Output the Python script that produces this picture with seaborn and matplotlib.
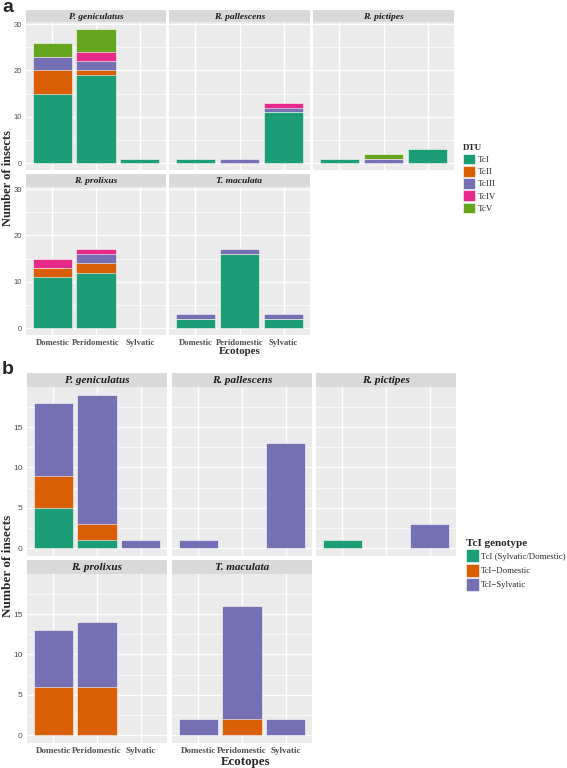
import pandas as pd
import matplotlib
matplotlib.use("Agg")
import matplotlib.pyplot as plt
import seaborn as sns
from matplotlib.patches import Patch

# Data
ecotopes = ['Domestic', 'Peridomestic', 'Sylvatic']
species = ['P. geniculatus', 'R. pallescens', 'R. pictipes', 'R. prolixus', 'T. maculata']

# panel a: counts per DTU, rows = species, columns = ecotopes
dtus = ['TcI', 'TcII', 'TcIII', 'TcIV', 'TcV']
dtu_colors = ['#1B9E77', '#D95F02', '#7570B3', '#E7298A', '#66A61E']
tci = [[15, 19, 1], [1, 0, 11], [1, 0, 3], [11, 12, 0], [2, 16, 2]]
tcii = [[5, 1, 0], [0, 0, 0], [0, 0, 0], [2, 2, 0], [0, 0, 0]]
tciii = [[3, 2, 0], [0, 1, 1], [0, 1, 0], [0, 2, 0], [1, 1, 1]]
tciv = [[0, 2, 0], [0, 0, 1], [0, 0, 0], [2, 1, 0], [0, 0, 0]]
tcv = [[3, 5, 0], [0, 0, 0], [0, 1, 0], [0, 0, 0], [0, 0, 0]]

# panel b: TcI genotype counts
genotypes = ['TcI (Sylvatic/Domestic)', 'TcI\u2212Domestic', 'TcI\u2212Sylvatic']
geno_colors = ['#1B9E77', '#D95F02', '#7570B3']
tci_both = [[5, 1, 0], [0, 0, 0], [1, 0, 0], [0, 0, 0], [0, 0, 0]]
tci_dom = [[4, 2, 0], [0, 0, 0], [0, 0, 0], [6, 6, 0], [0, 2, 0]]
tci_syl = [[9, 16, 1], [1, 0, 13], [0, 0, 3], [7, 8, 0], [2, 14, 2]]


def to_long(groups, tables):
    rows = []
    for g, tab in zip(groups, tables):
        for s, vals in zip(species, tab):
            for e, v in zip(ecotopes, vals):
                rows.append((s, e, g, v))
    return pd.DataFrame(rows, columns=['species', 'ecotope', 'group', 'n'])


df_a = to_long(dtus, [tci, tcii, tciii, tciv, tcv])
df_b = to_long(genotypes, [tci_both, tci_dom, tci_syl])

sns.set_theme(style='darkgrid', rc={'axes.facecolor': '#EBEBEB', 'grid.color': 'white'})
plt.rcParams['font.family'] = ['Liberation Serif', 'DejaVu Serif']

W, H = 567, 768
fig = plt.figure(figsize=(W / 100, H / 100), dpi=100)
fig.patch.set_facecolor('white')


def px_axes(x0, y0, x1, y1):
    return fig.add_axes([x0 / W, 1 - y1 / H, (x1 - x0) / W, (y1 - y0) / H])


def draw_panel(df, groups, colors, cols, rows, yticks, yminor, fs):
    top = df.groupby(['species', 'ecotope'])['n'].sum().max()
    for i, sp in enumerate(species):
        r, c = divmod(i, 3)
        x0, x1 = cols[c]
        s0, p0, p1 = rows[r]
        # strip
        st = px_axes(x0, s0, x1, p0)
        st.set_facecolor('#D9D9D9')
        st.set_xticks([])
        st.set_yticks([])
        st.grid(False)
        for sp_ in st.spines.values():
            sp_.set_visible(False)
        st.text(0.5, 0.45, sp, ha='center', va='center', fontsize=fs['strip'],
                fontweight='bold', style='italic', color='#1A1A1A', transform=st.transAxes)

        ax = px_axes(x0, p0, x1, p1)
        sub = df[df['species'] == sp]
        wide = sub.pivot(index='ecotope', columns='group', values='n').reindex(index=ecotopes, columns=groups)
        cum = wide.cumsum(axis=1).reset_index()
        for g, col in reversed(list(zip(groups, colors))):
            sns.barplot(data=cum, x='ecotope', y=g, order=ecotopes, color=col, saturation=1,
                        width=0.9, errorbar=None, edgecolor='white', linewidth=0.4, ax=ax)
        for p in ax.patches:
            if p.get_height() == 0:
                p.set_visible(False)
        ax.set_xlim(-0.6, 2.6)
        ax.set_ylim(-top * 0.05, top * 1.05)
        ax.set_yticks(yticks)
        ax.set_yticks(yminor, minor=True)
        ax.set_axisbelow(True)
        ax.grid(which='major', color='white', lw=1.0)
        ax.grid(which='minor', axis='y', color='white', lw=0.5)
        ax.set_xlabel('')
        ax.set_ylabel('')
        for sp_ in ax.spines.values():
            sp_.set_visible(False)
        ax.tick_params(which='major', length=2.2, width=0.6, color='#333333', pad=0.8)
        ax.tick_params(which='minor', length=0)
        if c == 0:
            ax.set_yticklabels([str(t) for t in yticks], fontsize=fs['ytick'],
                               color='#4D4D4D', family='Liberation Sans')
        else:
            ax.tick_params(axis='y', left=False, labelleft=False)
        if r == 1:
            ax.set_xticklabels(ecotopes, fontsize=fs['xtick'], color='#4D4D4D', fontweight='bold')
        else:
            ax.tick_params(axis='x', bottom=False, labelbottom=False)


fs_a = {'strip': 6.8, 'ytick': 5.5, 'xtick': 6.2}
fs_b = {'strip': 8, 'ytick': 6, 'xtick': 6.5}

draw_panel(df_a, dtus, dtu_colors,
           [(26, 166), (169, 310), (313, 454)],
           [(10, 22, 170), (174, 187, 335)],
           [0, 10, 20, 30], [5, 15, 25], fs_a)
draw_panel(df_b, genotypes, geno_colors,
           [(27, 167), (172, 312), (316, 456)],
           [(373, 387, 556), (560, 574, 743)],
           [0, 5, 10, 15], [2.5, 7.5, 12.5, 17.5], fs_b)

# panel letters
fig.text(2 / W, 1 - 7 / H, 'a', fontsize=14, fontweight='bold', family='Liberation Sans', va='center')
fig.text(2 / W, 1 - 370 / H, 'b', fontsize=14, fontweight='bold', family='Liberation Sans', va='center')

# axis titles
fig.text(8 / W, 1 - 178 / H, 'Number of insects', rotation=90, ha='center', va='center',
         fontsize=9, fontweight='bold')
fig.text(240 / W, 1 - 351 / H, 'Ecotopes', ha='center', va='center', fontsize=7.8, fontweight='bold')
fig.text(8 / W, 1 - 566 / H, 'Number of insects', rotation=90, ha='center', va='center',
         fontsize=9.5, fontweight='bold')
fig.text(246 / W, 1 - 762 / H, 'Ecotopes', ha='center', va='center', fontsize=9.3, fontweight='bold')

# legends
h_a = [Patch(facecolor=c, edgecolor='white', linewidth=0.4, label=l) for l, c in zip(dtus, dtu_colors)]
leg_a = fig.legend(handles=h_a, title='DTU', loc='upper left', bbox_to_anchor=(463 / W, 1 - 144 / H),
                   frameon=False, fontsize=6.5, title_fontsize=6.5, handlelength=1.3, handleheight=1.45,
                   labelspacing=0.17, handletextpad=0.3, borderaxespad=0, borderpad=0)
leg_a._legend_box.align = 'left'
leg_a.get_title().set_fontweight('bold')

h_b = [Patch(facecolor=c, edgecolor='white', linewidth=0.4, label=l) for l, c in zip(genotypes, geno_colors)]
leg_b = fig.legend(handles=h_b, title='TcI genotype', loc='upper left', bbox_to_anchor=(466 / W, 1 - 539 / H),
                   frameon=False, fontsize=6.3, title_fontsize=8, handlelength=1.5, handleheight=1.9,
                   labelspacing=0.16, handletextpad=0.25, borderaxespad=0, borderpad=0)
leg_b._legend_box.align = 'left'
leg_b.get_title().set_fontweight('bold')

fig.savefig('out.png', dpi=100)
